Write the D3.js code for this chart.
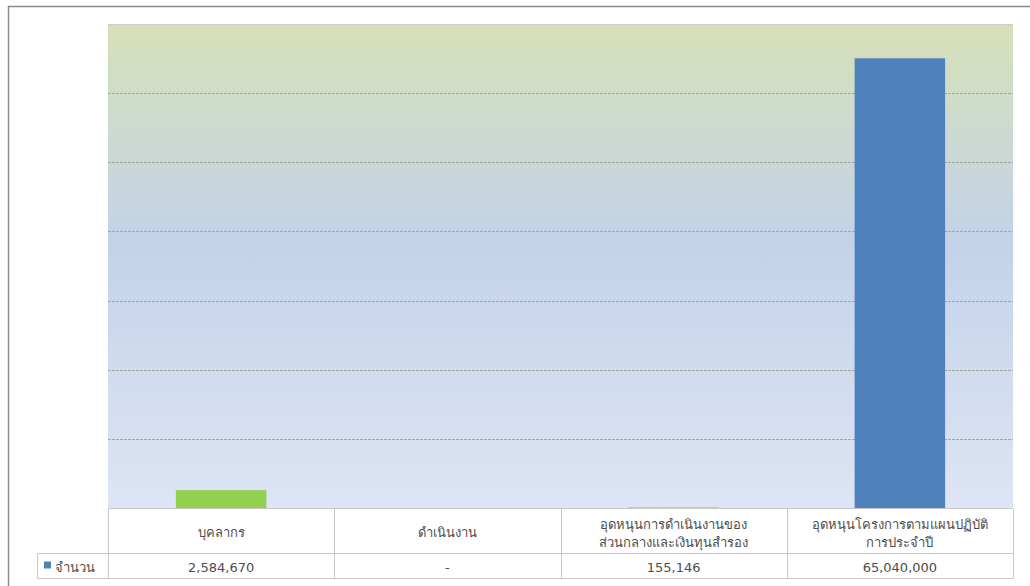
<!DOCTYPE html>
<html>
<head>
<meta charset="utf-8">
<script src="https://cdn.jsdelivr.net/npm/d3@7"></script>
<style>
  body { margin: 0; background: #fff; }
  svg { display: block; font-family: "Tahoma", "DejaVu Sans", "Noto Sans", sans-serif; }
</style>
</head>
<body>
<div id="chart"></div>
<script>
// chart values
const categories = [
    ["บุคลากร"],
    ["ดำเนินงาน"],
    ["อุดหนุนการดำเนินงานของ", "ส่วนกลางและเงินทุนสำรอง"],
    ["อุดหนุนโครงการตามแผนปฏิบัติ", "การประจำปี"]
];
const values = [2584670, 0, 155146, 65040000];
const valueLabels = ["2,584,670", "-", "155,146", "65,040,000"];
const barColors = ["#92d050", "#c0504d", "#f2b3bd", "#4f81bd"];
const seriesName = "จำนวน";
const yTicks = [0, 10000000, 20000000, 30000000, 40000000, 50000000, 60000000, 70000000];

const width = 1030, height = 586;
const plot = {left: 108, right: 1013, top: 24, bottom: 508};

const svg = d3.select("#chart").append("svg")
    .attr("width", width)
    .attr("height", height);

// outer frame
svg.append("rect")
    .attr("x", 8.5).attr("y", 6.5)
    .attr("width", width + 10).attr("height", height + 10)
    .attr("fill", "#fff")
    .attr("stroke", "#8c8c8c")
    .attr("stroke-width", 1.5);

const defs = svg.append("defs");
const grad = defs.append("linearGradient")
    .attr("id", "bg").attr("x1", 0).attr("y1", 0).attr("x2", 0).attr("y2", 1);
grad.append("stop").attr("offset", "0%").attr("stop-color", "#d6e1b8");
grad.append("stop").attr("offset", "45%").attr("stop-color", "#c3d2e9");
grad.append("stop").attr("offset", "100%").attr("stop-color", "#dee5f4");

const x = d3.scaleBand()
    .domain(d3.range(categories.length))
    .range([plot.left, plot.right])
    .paddingInner(0)
    .paddingOuter(0);

const y = d3.scaleLinear()
    .domain([0, 70000000])
    .range([plot.bottom, plot.top]);

svg.append("rect")
    .attr("x", plot.left).attr("y", plot.top)
    .attr("width", plot.right - plot.left).attr("height", plot.bottom - plot.top)
    .attr("fill", "url(#bg)");

// gridlines
svg.append("g")
    .selectAll("line")
    .data(yTicks.slice(1))
    .join("line")
    .attr("x1", plot.left).attr("x2", plot.right)
    .attr("y1", d => Math.round(y(d)) + 0.5)
    .attr("y2", d => Math.round(y(d)) + 0.5)
    .attr("stroke", d => d === 70000000 ? "#c8ccc4" : "#a3a8a4")
    .attr("stroke-dasharray", "3,1");

// bars
const barW = x.bandwidth() * 0.4;
svg.append("g")
    .selectAll("rect")
    .data(values)
    .join("rect")
    .attr("x", (d, i) => x(i) + (x.bandwidth() - barW) / 2)
    .attr("y", d => y(d))
    .attr("width", barW)
    .attr("height", d => Math.max(0, plot.bottom - y(d)))
    .attr("fill", (d, i) => barColors[i]);

// data table
const rowH1 = 45, rowH2 = 25;
const tbl = svg.append("g")
    .attr("fill", "none")
    .attr("stroke", "#c8c8c8")
    .attr("stroke-width", 1);
const tTop = plot.bottom + 0.5, tMid = tTop + rowH1, tBot = tMid + rowH2;
const legendLeft = 37.5;

tbl.append("line").attr("x1", plot.left).attr("x2", plot.right).attr("y1", tTop).attr("y2", tTop);
tbl.append("line").attr("x1", legendLeft).attr("x2", plot.right).attr("y1", tMid).attr("y2", tMid);
tbl.append("line").attr("x1", legendLeft).attr("x2", plot.right).attr("y1", tBot).attr("y2", tBot);
tbl.append("line").attr("x1", legendLeft).attr("x2", legendLeft).attr("y1", tMid).attr("y2", tBot);
tbl.selectAll("line.v")
    .data(d3.range(categories.length + 1))
    .join("line")
    .attr("class", "v")
    .attr("x1", i => Math.round(i < categories.length ? x(i) : plot.right) + 0.5)
    .attr("x2", i => Math.round(i < categories.length ? x(i) : plot.right) + 0.5)
    .attr("y1", tTop).attr("y2", tBot);

const textColor = "#4d4d4d";

svg.append("g")
    .attr("font-size", 13)
    .attr("fill", textColor)
    .attr("text-anchor", "middle")
    .selectAll("text")
    .data(categories)
    .join("text")
    .attr("x", (d, i) => x(i) + x.bandwidth() / 2)
    .attr("y", d => d.length === 1 ? tTop + 28 : tTop + 20)
    .each(function (d) {
        d3.select(this).selectAll("tspan")
            .data(d)
            .join("tspan")
            .attr("x", d3.select(this).attr("x"))
            .attr("dy", (t, j) => j === 0 ? 0 : 18)
            .text(t => t);
    });

svg.append("g")
    .attr("font-size", 13)
    .attr("fill", textColor)
    .attr("text-anchor", "middle")
    .selectAll("text")
    .data(valueLabels)
    .join("text")
    .attr("x", (d, i) => x(i) + x.bandwidth() / 2)
    .attr("y", tMid + 18)
    .text(d => d);

// legend key
svg.append("rect")
    .attr("x", 44).attr("y", tMid + 8)
    .attr("width", 7).attr("height", 7)
    .attr("fill", "#4f81bd");
svg.append("text")
    .attr("x", 55).attr("y", tMid + 18)
    .attr("font-size", 13)
    .attr("fill", textColor)
    .text(seriesName);
</script>
</body>
</html>
